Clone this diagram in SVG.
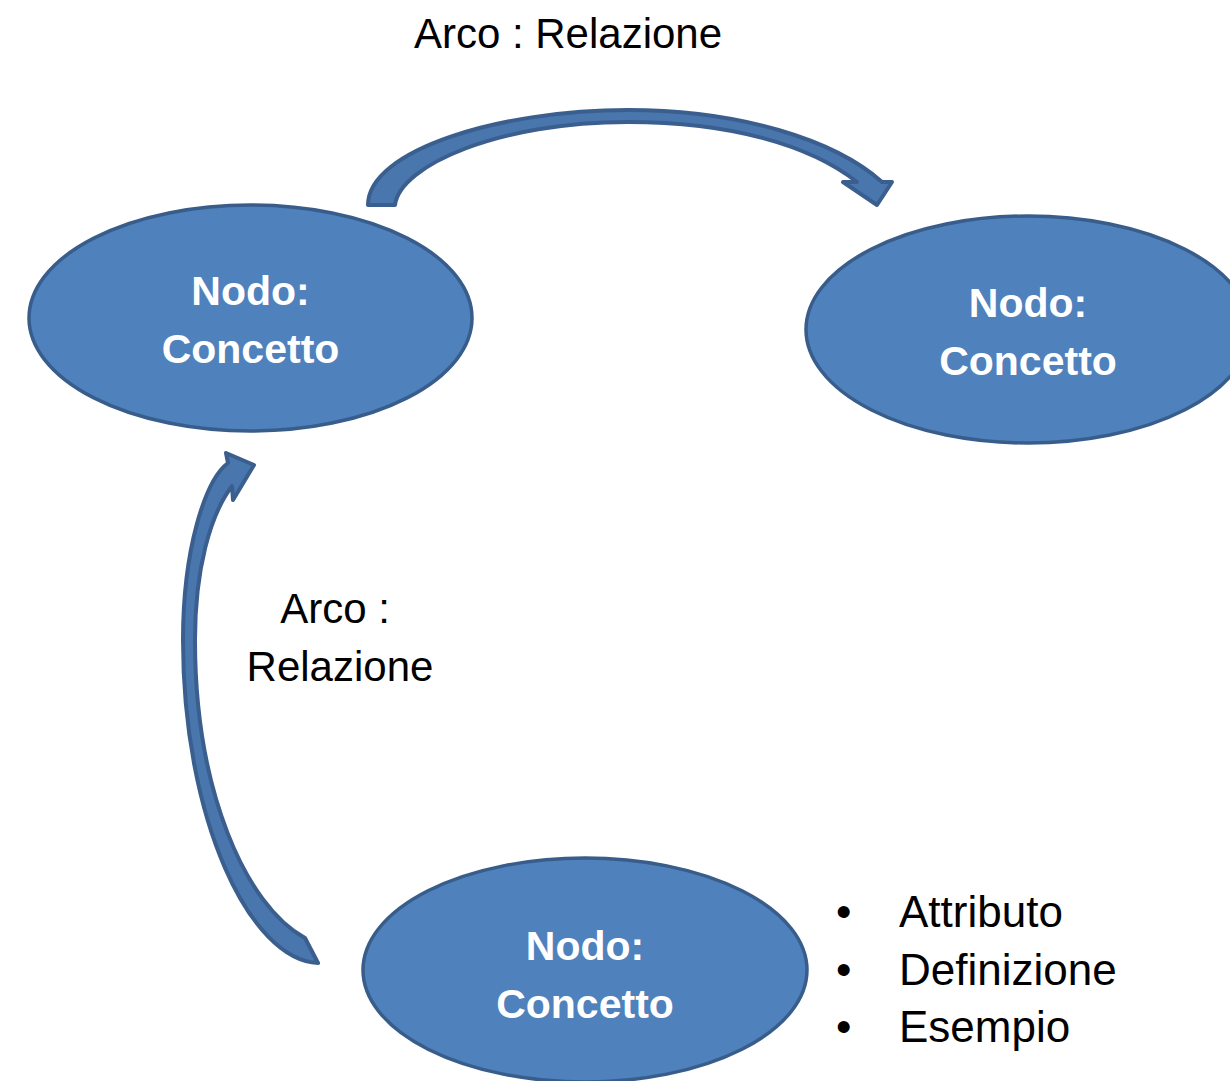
<svg xmlns="http://www.w3.org/2000/svg" width="1230" height="1081" viewBox="0 0 1230 1081">
<style>
.node{fill:#4F81BD;stroke:#385D8A;stroke-width:3.5}
.arrow{fill:#4A76AE;stroke:#3A5F8E;stroke-width:4;stroke-linejoin:round}
.nt{font-family:"Liberation Sans",Arial,sans-serif;font-weight:bold;font-size:41px;fill:#FFFFFF;text-anchor:middle}
.lbl{font-family:"Liberation Sans",Arial,sans-serif;font-size:42px;fill:#000000}
.bl{font-family:"Liberation Sans",Arial,sans-serif;font-size:44px;fill:#000000}
</style>
<rect width="1230" height="1081" fill="#FFFFFF"/>
<g id="connectors">
<path class="arrow" d="M 368,205 C 368,150 500,110 628,110 C 740,110 835,140 882,182 L 892,182 L 877,205 L 843,182 L 857,182 C 810,145 730,122 628,122 C 500,122 400,165 395,205 Z"/>
<path class="arrow" d="M 318,963 C 250,960 183,820 183,640 C 183,550 205,480 228,463 L 226,453 L 254,465 L 233,500 L 232,486 C 210,515 195,570 195,640 C 195,790 245,905 305,938 Z"/>
</g>
<g id="node1">
<ellipse class="node" cx="250.5" cy="318" rx="221.5" ry="113"/>
<text class="nt" x="250.5" y="305">Nodo:</text>
<text class="nt" x="250.5" y="363">Concetto</text>
</g>
<g id="node2">
<ellipse class="node" cx="1028" cy="329.5" rx="222" ry="113.5"/>
<text class="nt" x="1028" y="317">Nodo:</text>
<text class="nt" x="1028" y="375">Concetto</text>
</g>
<g id="node3">
<ellipse class="node" cx="585" cy="970" rx="222" ry="112"/>
<text class="nt" x="585" y="960">Nodo:</text>
<text class="nt" x="585" y="1018">Concetto</text>
</g>
<g id="labels">
<text class="lbl" x="568" y="48" text-anchor="middle">Arco : Relazione</text>
<text class="lbl" x="335" y="623" text-anchor="middle">Arco :</text>
<text class="lbl" x="340" y="681" text-anchor="middle">Relazione</text>
<text class="bl" x="836" y="927">•</text>
<text class="bl" x="899" y="927">Attributo</text>
<text class="bl" x="836" y="985">•</text>
<text class="bl" x="899" y="985">Definizione</text>
<text class="bl" x="836" y="1042">•</text>
<text class="bl" x="899" y="1042">Esempio</text>
</g>
</svg>
